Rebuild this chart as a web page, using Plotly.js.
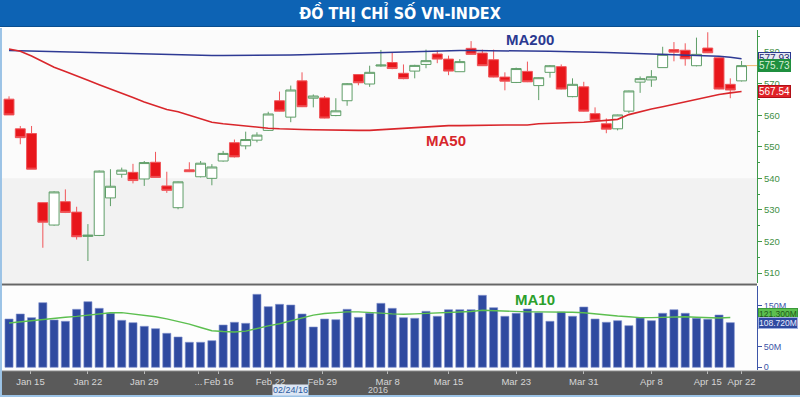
<!DOCTYPE html>
<html>
<head>
<meta charset="utf-8">
<script src="https://cdn.plot.ly/plotly-3.0.1.min.js"></script>
<style>html,body{margin:0;padding:0;background:#fff;}#chart{width:800px;height:397px;}</style>
</head>
<body>
<div id="chart"></div>
<script>
// ---- data (index 0 = Jan 13, 2016 ... index 65 = Apr 22, 2016) ----
const openP  = [565.1,555.7,554.2,532.3,525.2,532.6,529.3,521.6,521.9,533.8,541.3,541.9,539.8,545.1,537.6,530.7,542.7,540.5,540.0,545.5,551.3,550.3,552.1,555.2,564.6,559.4,570.9,565.4,565.5,559.9,564.6,572.9,569.9,575.6,576.7,573.3,574.0,576.1,579.4,577.8,573.8,581.2,579.7,577.6,572.1,570.4,573.9,569.4,573.6,575.4,565.9,569.0,560.5,557.3,555.7,561.3,570.5,571.2,575.1,580.8,580.6,575.7,581.3,578.2,569.8,570.9];
const highP  = [566.0,556.6,556.6,532.4,535.9,536.5,531.0,525.5,542.5,542.9,543.4,544.6,545.5,548.4,542.1,539.0,545.1,545.5,544.5,548.7,552.3,554.8,554.6,561.1,567.5,569.4,573.6,566.6,566.1,565.4,570.2,573.0,575.7,580.7,579.8,576.1,576.0,580.8,580.5,578.9,577.8,583.5,580.8,580.8,573.6,575.1,577.0,572.0,575.9,576.1,571.7,570.6,562.5,559.0,560.2,567.8,572.3,574.3,581.7,583.2,582.8,584.6,586.3,578.3,571.7,577.2];
const lowP   = [560.1,550.8,542.9,518.0,525.0,529.0,520.6,513.8,521.7,531.2,540.2,538.4,537.6,540.3,535.4,530.2,542.0,540.3,537.8,545.3,546.6,549.2,551.4,555.0,561.2,557.8,562.6,562.5,559.0,559.7,563.0,569.5,569.0,575.4,574.6,571.4,571.7,574.9,576.5,572.7,573.8,579.3,575.6,572.0,567.9,570.2,570.5,564.8,571.9,568.2,565.7,561.2,558.3,554.3,555.2,560.7,567.1,569.0,575.1,577.1,575.7,575.5,579.7,568.2,565.4,570.7];
const closeP = [560.1,552.9,542.9,526.1,535.7,529.2,521.5,522.0,542.3,537.5,542.6,539.3,545.0,540.3,536.2,538.9,542.1,544.8,543.6,547.9,546.8,552.3,553.7,560.4,561.3,568.0,562.7,566.1,559.1,561.4,570.0,570.3,573.6,575.9,574.8,571.6,575.8,577.3,577.8,574.0,577.0,579.3,575.7,572.1,570.8,574.8,570.6,571.9,575.7,568.3,569.8,561.3,558.4,555.6,560.1,567.7,571.6,572.2,579.3,580.0,577.9,579.3,579.8,568.3,568.0,575.73];
const ma200  = [580.5,580.4,580.3,580.2,580.1,580.0,579.9,579.8,579.7,579.6,579.5,579.5,579.4,579.4,579.3,579.2,579.1,579.0,578.9,578.9,578.9,578.9,578.9,579.0,579.0,579.1,579.2,579.3,579.4,579.5,579.6,579.8,579.9,580.0,580.1,580.2,580.3,580.4,580.5,580.5,580.5,580.5,580.5,580.5,580.5,580.5,580.5,580.4,580.3,580.2,580.2,580.1,580.0,579.9,579.8,579.7,579.5,579.4,579.3,579.3,579.2,579.1,579.0,578.7,578.4,577.93];
const ma50   = [581.0,580.3,578.8,577.1,575.2,573.9,572.4,571.1,569.7,568.4,567.0,565.6,564.2,563.0,561.8,561.1,560.0,558.9,557.8,557.3,556.9,556.6,556.2,555.9,555.7,555.5,555.5,555.4,555.3,555.3,555.2,555.2,555.2,555.4,555.6,555.8,556.1,556.4,556.6,556.7,556.7,556.8,556.8,556.8,556.9,556.9,556.9,557.3,557.5,557.6,557.7,557.8,558.1,558.3,558.7,560.2,561.2,562.0,562.7,563.5,564.3,565.1,565.9,566.6,567.1,567.54];
const volume = [117.6,129.8,120.8,157.3,115.2,112.0,141.2,159.7,143.6,131.5,114.4,108.6,99.8,94.0,82.8,73.8,60.9,60.9,64.8,103.0,109.6,107.1,177.7,147.6,153.4,151.7,129.8,98.1,117.6,115.9,141.2,121.7,131.5,155.8,143.6,120.8,119.3,136.3,124.2,140.2,140.2,140.2,175.3,145.1,124.2,131.5,142.0,132.9,112.0,134.6,124.2,146.8,117.6,109.6,113.5,101.3,120.0,113.5,131.5,140.2,131.5,119.3,116.9,127.3,108.72,null];
const ma10   = [108,111,114,117,120,122,124,127,131,133,133,130,127,123,118,112,105,97,89,87,86,88,95,101,106,113,120,127,131,133,135,135,134,132,130,129,130,131,132,133,134,136,139,138,136,135,135,135,135,135,134,133,130,127,125,123,121,121,122,123,123,122,121,120,121.3,null];
const tickPos  = [1.9,7,12,16.8,18.6,23.2,27.8,33.6,39,45,51,57,62,65];
const tickText = ['Jan 15','Jan 22','Jan 29','...','Feb 16','Feb 22','Feb 29','Mar 8','Mar 15','Mar 23','Mar 31','Apr 8','Apr 15','Apr 22'];
const priceTicks = [510,520,530,540,550,560,570,580];
const volTicks = [0,50,100,150];
const volTickText = ['0','50M','','150M'];

const idx = openP.map((_, i) => i);
const last = a => { for (let i = a.length - 1; i >= 0; i--) if (a[i] != null) return a[i]; };

const traces = [
  {type:'scatter', mode:'lines', x:idx, y:ma200, yaxis:'y', line:{color:'#2e3a94', width:1.5}, hoverinfo:'skip'},
  {type:'scatter', mode:'lines', x:idx, y:ma50, yaxis:'y', line:{color:'#d9262b', width:1.6}, hoverinfo:'skip'},
  {type:'candlestick', x:idx, open:openP, high:highP, low:lowP, close:closeP, yaxis:'y',
   whiskerwidth:0,
   increasing:{line:{color:'#5f9e68', width:1}, fillcolor:'#ffffff'},
   decreasing:{line:{color:'#f0565a', width:1}, fillcolor:'#e8161b'}},
  {type:'bar', x:idx, y:volume, yaxis:'y2', width:0.72,
   marker:{color:'#2f4aa0', line:{color:'#7f90cc', width:0.6}}},
  {type:'scatter', mode:'lines', x:idx, y:ma10, yaxis:'y2', line:{color:'#5cbf4f', width:1.4}, hoverinfo:'skip'}
];

const B = 27, T = 30, H = 397, PH = H - T - B;
const py = px => (H - B - px) / PH; // pixel row -> paper

const tag = (y, yref, text, bg, fg, border, size, yshift) => ({
  xref:'paper', x:1, xanchor:'left', xshift:1, yref:yref, y:y, yanchor:'middle', yshift:yshift||0,
  text:text, showarrow:false, bgcolor:bg, bordercolor:border||bg, borderwidth:1, borderpad:0,
  font:{family:'Liberation Sans, Arial, sans-serif', size:size||10, color:fg}
});

const layout = {
  width:800, height:397,
  margin:{l:0, r:43, t:T, b:B},
  paper_bgcolor:'#ffffff', plot_bgcolor:'#fbfbfb',
  showlegend:false, hovermode:false, dragmode:false,
  boxgap:0.12, boxgroupgap:0, bargap:0.2,
  title:{text:'<b>ĐỒ THỊ CHỈ SỐ VN-INDEX</b>', x:0.5, xref:'container', xanchor:'center',
         y:1 - 13.5/397, yref:'container', yanchor:'middle',
         font:{family:'Liberation Sans Narrow, DejaVu Sans Condensed, Arial, sans-serif', size:16, color:'#ffffff'}},
  xaxis:{anchor:'y2', range:[-0.8, 66.37], showgrid:false, zeroline:false, showline:false,
         tickmode:'array', tickvals:tickPos, ticktext:tickText, tickangle:0, ticks:'outside', ticklen:3, tickcolor:'#bbbbbb',
         tickfont:{family:'Liberation Sans, Arial, sans-serif', size:9.5, color:'#d6d6d6'},
         rangeslider:{visible:false}, fixedrange:true},
  yaxis:{domain:[py(283), 1], side:'right', range:[506.83, 587.02], showgrid:false, zeroline:false,
         showline:true, linecolor:'#3f9a4a', linewidth:1,
         tickmode:'array', tickvals:priceTicks, ticks:'outside', ticklen:4, tickcolor:'#3f9a4a',
         minor:{dtick:5, ticks:'outside', ticklen:2, tickcolor:'#3f9a4a'},
         tickfont:{family:'Liberation Sans, Arial, sans-serif', size:9.5, color:'#3f8f45'}, fixedrange:true},
  yaxis2:{domain:[0, py(286)], side:'right', range:[-6.57, 197.96], showgrid:false, zeroline:false,
          showline:true, linecolor:'#3d55a8', linewidth:1,
          tickmode:'array', tickvals:volTicks, ticktext:volTickText, ticks:'outside', ticklen:4, tickcolor:'#3d55a8',
          tickfont:{family:'Liberation Sans, Arial, sans-serif', size:9, color:'#3d55a8'}, fixedrange:true},
  shapes:[
    {type:'rect', xref:'paper', yref:'paper', x0:-0.01, x1:1.07, y0:py(27), y1:py(0), fillcolor:'#0d63b4', line:{width:0}, layer:'below'},
    {type:'line', xref:'paper', yref:'paper', x0:-0.01, x1:1.07, y0:py(26.5), y1:py(26.5), line:{color:'#0a4f90', width:1}},
    {type:'rect', xref:'paper', yref:'y', x0:0, x1:1, y0:506.83, y1:540, fillcolor:'#f2f2f2', line:{width:0}, layer:'below'},
    {type:'rect', xref:'paper', yref:'paper', x0:0, x1:1, y0:0, y1:py(286), fillcolor:'#fdfdfd', line:{width:0}, layer:'below'},
    {type:'line', xref:'paper', yref:'paper', x0:0, x1:1, y0:py(284.5), y1:py(284.5), line:{color:'#666666', width:2}},
    {type:'rect', xref:'paper', yref:'paper', x0:0, x1:1.07, y0:py(395), y1:py(371), fillcolor:'#5a5a5a', line:{width:0}, layer:'below'},
    {type:'line', xref:'paper', yref:'paper', x0:0, x1:1.07, y0:py(371), y1:py(371), line:{color:'#8a8a8a', width:1}},
    {type:'line', xref:'paper', yref:'paper', x0:0.0013, x1:0.0013, y0:py(397), y1:py(28), line:{color:'#9cc3e6', width:2}},
    {type:'line', xref:'paper', yref:'paper', x0:0, x1:1.07, y0:py(396), y1:py(396), line:{color:'#9cc3e6', width:2}},
    {type:'line', xref:'x', yref:'y', x0:65.45, x1:66.37, y0:last(closeP), y1:last(closeP), line:{color:'#f2b56b', width:1}}
  ],
  annotations:[
    {xref:'x', yref:'y', x:46.2, y:584.1, text:'<b>MA200</b>', showarrow:false,
     font:{family:'Liberation Sans, Arial, sans-serif', size:15, color:'#2b3990'}},
    {xref:'x', yref:'y', x:38.75, y:552.06, text:'<b>MA50</b>', showarrow:false,
     font:{family:'Liberation Sans, Arial, sans-serif', size:15, color:'#d7262b'}},
    {xref:'x', yref:'y2', x:46.7, y:165.8, text:'<b>MA10</b>', showarrow:false,
     font:{family:'Liberation Sans, Arial, sans-serif', size:15, color:'#2ca02c'}},
    {xref:'x', yref:'paper', x:25, y:py(389.5), yanchor:'middle', text:'02/24/16', showarrow:false, bgcolor:'#dce6f4', borderpad:0,
     font:{family:'Liberation Sans, Arial, sans-serif', size:9, color:'#2a5aa0'}},
    {xref:'x', yref:'paper', x:32.7, y:py(389.5), yanchor:'middle', text:'2016', showarrow:false,
     font:{family:'Liberation Sans, Arial, sans-serif', size:9, color:'#d0d0d0'}},
    tag(last(ma200), 'y', last(ma200).toFixed(2), '#e6e9f3', '#1f2a6e', '#2b3990'),
    tag(last(closeP), 'y', last(closeP).toFixed(2), '#1f8f3f', '#d8f0d8', '#1f8f3f'),
    tag(last(ma50), 'y', last(ma50).toFixed(2), '#e02228', '#ffffff', '#b01018'),
    tag(last(ma10), 'y2', last(ma10).toFixed(3) + 'M', '#5cbf4f', '#1f5a1a', '#3a9a3a', 8.5, 3),
    tag(last(volume), 'y2', last(volume).toFixed(3) + 'M', '#2f4aa0', '#e8ecff', '#9fb0e0', 8.5)
  ]
};

Plotly.newPlot('chart', traces, layout, {displayModeBar:false, staticPlot:true});
</script>
</body>
</html>
